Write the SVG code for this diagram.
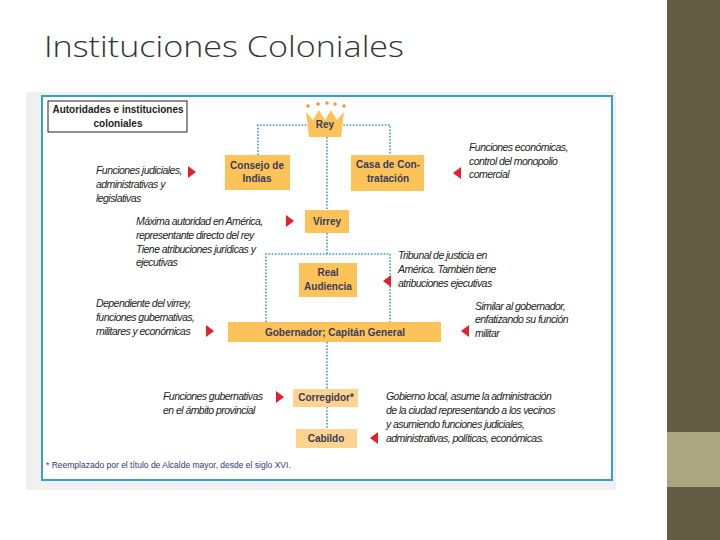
<svg xmlns="http://www.w3.org/2000/svg" width="720" height="540" viewBox="0 0 720 540">
<style>
.n{fill:#fbc35a}.l{fill:#fcd38f}
.b{font-family:"Liberation Sans",Arial,sans-serif;font-size:10px;font-weight:bold;fill:#3a3a5a;text-anchor:middle}
.t{font-family:"Liberation Sans",Arial,sans-serif;font-size:10.5px;font-style:italic;fill:#222;letter-spacing:-0.55px}
.c{fill:none;stroke:#3a9cbf;stroke-width:1.6;stroke-dasharray:1.6 1.6}
.r{fill:#e3202e}
</style>
<rect width="720" height="540" fill="#fff"/>
<rect x="667" y="0" width="53" height="540" fill="#625c45"/>
<rect x="667" y="432" width="53" height="55" fill="#aba67f"/>
<text x="44" y="57" font-family="'Open Sans',sans-serif" font-weight="300" font-size="30" fill="#333" textLength="360" lengthAdjust="spacingAndGlyphs">Instituciones Coloniales</text>
<rect x="26" y="92" width="590" height="398" fill="#f0f0f0"/>
<rect x="42" y="96" width="570" height="384" fill="#fff" stroke="#3a9fc0" stroke-width="2"/>
<rect x="48" y="101" width="139" height="31" fill="#fff" stroke="#222"/>
<text class="b" x="118" y="113" style="fill:#222">Autoridades e instituciones</text>
<text class="b" x="118" y="127" style="fill:#222">coloniales</text>
<g id="connectors">
<path class="c" d="M258 155V125H390V155M327 137V210M327 233V254M266 322V254H390V322M327 342V389M327 407V429"/>
</g>
<g id="rey"><path class="n" d="M306 112L313 120L319 110L325 120L331 110L337 120L344 112L341 137H309Z"/>
<circle cx="308" cy="106" r="1.8" fill="#e89a3c"/><circle cx="318" cy="104" r="1.8" fill="#e89a3c"/><circle cx="327" cy="103" r="1.8" fill="#e89a3c"/><circle cx="335" cy="104" r="1.8" fill="#e89a3c"/><circle cx="344" cy="106" r="1.8" fill="#e89a3c"/>
<text class="b" x="325" y="128">Rey</text></g>
<g id="consejo"><rect class="n" x="225" y="155" width="65" height="35"/><text class="b" x="257" y="169">Consejo de</text><text class="b" x="257" y="182">Indias</text></g>
<g id="casa"><rect class="n" x="351" y="155" width="73" height="36"/><text class="b" x="388" y="168">Casa de Con-</text><text class="b" x="388" y="182">tratación</text></g>
<g id="virrey"><rect class="n" x="305" y="210" width="44" height="23"/><text class="b" x="327" y="225">Virrey</text></g>
<g id="audiencia"><rect class="n" x="299" y="263" width="58" height="34"/><text class="b" x="328" y="276">Real</text><text class="b" x="328" y="290">Audiencia</text></g>
<g id="gobernador"><rect class="n" x="228" y="322" width="213" height="20"/><text class="b" x="335" y="336">Gobernador; Capitán General</text></g>
<g id="corregidor"><rect class="l" x="293" y="389" width="65" height="18"/><text class="b" x="326" y="401">Corregidor*</text></g>
<g id="cabildo"><rect class="l" x="296" y="429" width="61" height="19"/><text class="b" x="326" y="442">Cabildo</text></g>
<path class="r" d="M188 166l8 6-8 6zM286 215l8 6-8 6zM206 325l8 6-8 6zM276 391l8 6-8 6zM461 167l-8 6 8 6zM391 275l-8 6 8 6zM469 325l-8 6 8 6zM378 432l-8 6 8 6z"/>
<g>
<text class="t" x="96" y="174">Funciones judiciales,</text><text class="t" x="96" y="188">administrativas y</text><text class="t" x="96" y="202">legislativas</text>
<text class="t" x="136" y="225">Máxima autoridad en América,</text><text class="t" x="136" y="239">representante directo del rey</text><text class="t" x="136" y="253">Tiene atribuciones jurídicas y</text><text class="t" x="136" y="266">ejecutivas</text>
<text class="t" x="469" y="151">Funciones económicas,</text><text class="t" x="469" y="165">control del monopolio</text><text class="t" x="469" y="178">comercial</text>
<text class="t" x="398" y="259">Tribunal de justicia en</text><text class="t" x="398" y="273">América. También tiene</text><text class="t" x="398" y="287">atribuciones ejecutivas</text>
<text class="t" x="96" y="307">Dependiente del virrey,</text><text class="t" x="96" y="321">funciones gubernativas,</text><text class="t" x="96" y="335">militares y económicas</text>
<text class="t" x="475" y="310">Similar al gobernador,</text><text class="t" x="475" y="323">enfatizando su función</text><text class="t" x="475" y="337">militar</text>
<text class="t" x="163" y="400">Funciones gubernativas</text><text class="t" x="163" y="414">en el ámbito provincial</text>
<text class="t" x="386" y="400">Gobierno local, asume la administración</text><text class="t" x="386" y="414">de la ciudad representando a los vecinos</text><text class="t" x="386" y="428">y asumiendo funciones judiciales,</text><text class="t" x="386" y="442">administrativas, políticas, económicas.</text>
</g>
<text x="46" y="468" font-family="'Liberation Sans',Arial,sans-serif" font-size="8.5" fill="#2a3a7a">* Reemplazado por el título de Alcalde mayor, desde el siglo XVI.</text>
</svg>
